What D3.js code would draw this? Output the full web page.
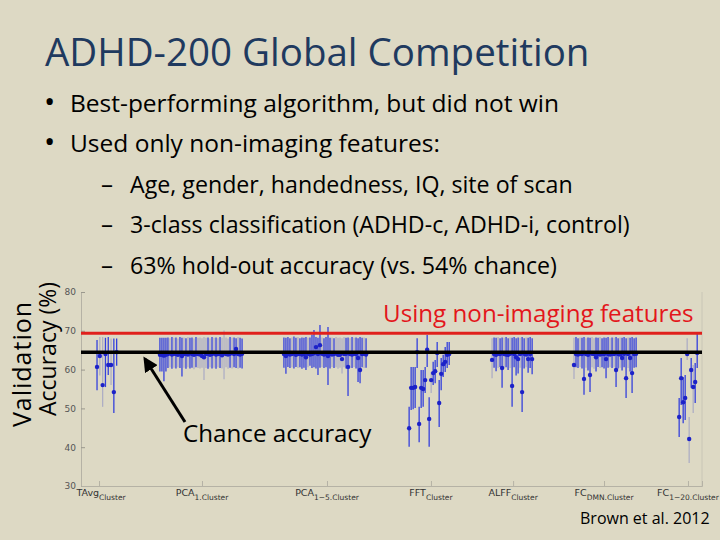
<!DOCTYPE html>
<html>
<head>
<meta charset="utf-8">
<script src="https://cdn.jsdelivr.net/npm/d3@7"></script>
<style>
  html, body { margin: 0; padding: 0; background: #ddd9c4; }
  svg { display: block; }
</style>
</head>
<body>
<svg id="chart" width="720" height="540"></svg>
<script>
// tick labels and group names (main text + subscript)
const yTicks = [30, 40, 50, 60, 70, 80];
const groupNames = [
  ["TAvg", "Cluster"], ["PCA", "1.Cluster"], ["PCA", "1\u22125.Cluster"],
  ["FFT", "Cluster"], ["ALFF", "Cluster"], ["FC", "DMN.Cluster"], ["FC", "1\u221220.Cluster"]
];
const groupTicks = [9.0, 60.4, 122.8, 174.7, 215.7, 261.1, 303.0];
const groupStart = [8.0, 39.4, 101.3, 163.8, 205.2, 246.1, 298.6];
const groupStep = [1.4, 1, 1, 1, 1, 1, 1];

const bestLevel = 69.4;   // red line
const chanceLevel = 64.5; // black line

// group 1: TAvg
const g1Mean = [60.7, 63.5, 56.0, 64.0, 61.2, 61.2, 54.2, 64.5];
const g1Lo   = [54.7, 58.5, 50.4, 55.5, 58.6, 56.0, 48.8, 61.0];
const g1Hi   = [67.6, 68.4, 68.4, 68.2, 68.4, 68.0, 68.0, 68.0];
const g1Col  = "bggbbgbb";

// group 2: PCA 1
const g2Mean = [63.8, 63.8, 63.6, 63.8, 64.0, 64.2, 63.9, 64.1, 64.0, 63.8,
                64.2, 63.5, 64.0, 64.1, 63.9, 64.3, 64.0, 63.8, 64.1, 64.0,
                63.9, 63.5, 63.2, 64.0, 64.1, 63.8, 64.0, 64.2, 63.9, 64.0,
                64.1, 63.7, 64.2, 64.0, 63.9, 64.1, 64.3, 64.0, 65.3, 64.0,
                63.9, 64.1];
const g2Lo   = [59.5, 59.5, 57.0, 59.5, 60.4, 60.6, 60.2, 60.5, 60.3, 60.6,
                60.4, 58.2, 60.5, 60.2, 60.6, 60.3, 60.5, 60.1, 60.6, 60.4,
                60.3, 60.5, 57.3, 60.4, 60.2, 60.6, 60.3, 60.5, 60.2, 60.6,
                60.4, 60.3, 57.5, 60.6, 60.2, 60.5, 60.3, 60.6, 60.4, 60.2,
                60.5, 60.3];
const g2Hi   = [68.2, 68.2, 68.2, 68.2, 68.3, 68.1, 68.4, 68.2, 68.3, 68.0,
                68.4, 68.2, 68.3, 68.1, 68.4, 68.2, 68.3, 68.0, 68.4, 68.2,
                68.3, 68.1, 68.4, 68.2, 68.3, 68.0, 68.4, 68.2, 68.3, 68.1,
                68.4, 68.2, 70.1, 68.3, 68.0, 68.4, 68.2, 68.3, 68.1, 68.4,
                68.2, 68.0];
const g2Col  = "bbbbbgbgbgbbgbgbbgbgggggbgbgbgbggggbgbbgbb";

// group 3: PCA 1-5
const g3Mean = [64.0, 63.5, 64.1, 63.9, 64.0, 64.2, 63.8, 64.0, 64.1, 63.9,
                64.0, 63.2, 64.1, 63.9, 64.0, 64.2, 65.8, 64.0, 66.3, 64.1,
                63.9, 64.0, 63.5, 64.1, 63.9, 64.0, 64.2, 63.8, 63.8, 62.7,
                64.0, 64.1, 60.7, 64.0, 63.9, 64.1, 64.0, 63.0, 59.9, 64.0,
                64.1, 63.9];
const g3Lo   = [60.5, 58.9, 60.7, 60.4, 60.6, 60.3, 60.7, 60.4, 60.6, 60.2,
                60.5, 59.9, 60.6, 61.0, 60.4, 60.6, 60.3, 58.6, 60.5, 60.7,
                60.4, 60.6, 56.0, 60.3, 60.7, 60.4, 60.6, 60.2, 60.5, 59.0,
                60.6, 60.3, 53.2, 60.5, 60.4, 60.7, 60.3, 56.8, 56.5, 60.6,
                60.4, 60.5];
const g3Hi   = [68.3, 68.2, 68.4, 68.1, 68.3, 68.5, 68.2, 68.4, 68.1, 68.3,
                68.2, 68.4, 68.2, 68.3, 69.0, 70.2, 68.4, 68.2, 71.5, 68.3,
                68.1, 68.4, 71.0, 68.2, 68.3, 68.1, 68.4, 68.2, 68.3, 68.1,
                68.4, 68.2, 68.3, 68.1, 68.4, 68.2, 68.3, 68.1, 68.4, 68.2,
                68.3, 68.1];
const g3Col  = "bbbbgbbgbbbbgbbbbbbgbbbbgbgggggbbgbgbbbbgbg";

// group 4: FFT
const g4Mean = [44.9, 55.3, 55.3, 55.5, 64.5, 46.0, 55.3, 55.0, 57.3, 65.1,
                47.3, 57.3, 59.1, 59.6, 64.3, 51.4, 58.9, 61.4, 62.0, 63.8, 64.0];
const g4Lo   = [40.1, 49.6, 49.8, 50.1, 60.4, 41.3, 50.1, 50.4, 54.0, 60.7,
                40.1, 54.0, 56.0, 56.5, 60.7, 45.2, 54.7, 58.1, 59.4, 60.4, 61.2];
const g4Hi   = [50.4, 60.7, 60.7, 60.7, 68.1, 50.4, 59.9, 59.9, 60.7, 68.9,
                52.9, 59.4, 62.0, 62.5, 67.1, 57.3, 63.0, 63.8, 65.8, 67.1, 67.1];
const g4Col  = "bbbbbbbbbbbgbbbbbbbbb";

// group 5: ALFF
const g5Mean = [62.5, 64.0, 63.8, 64.1, 64.0, 60.4, 64.0, 63.9, 63.8, 64.1,
                55.8, 64.0, 63.2, 62.7, 64.0, 54.2, 64.1, 63.9, 62.7, 64.0, 62.7];
const g5Lo   = [57.8, 60.5, 59.6, 60.4, 60.7, 55.3, 60.3, 60.6, 59.9, 60.4,
                50.4, 60.6, 58.5, 59.0, 60.5, 49.1, 60.3, 60.6, 59.2, 60.4, 58.8];
const g5Hi   = [68.1, 68.3, 68.2, 68.4, 68.1, 68.3, 68.2, 68.4, 68.1, 68.3,
                68.2, 68.4, 68.1, 68.3, 68.2, 68.4, 68.1, 68.3, 68.2, 68.4, 68.1];
const g5Col  = "gbbgbbgbbgbbbbgbbgbbb";

// group 6: FC DMN
const g6Mean = [61.2, 64.0, 63.9, 64.1, 64.0, 57.6, 64.0, 63.8, 58.6, 64.1,
                64.0, 63.2, 64.0, 63.9, 64.1, 64.0, 62.7, 64.0, 63.9, 64.1,
                64.0, 59.9, 64.0, 63.9, 63.0, 64.1, 57.8, 64.0, 63.0, 59.1,
                64.0, 64.1];
const g6Lo   = [57.6, 60.6, 60.4, 60.7, 60.3, 53.5, 60.5, 59.8, 54.2, 60.6,
                60.2, 59.5, 60.7, 60.4, 60.6, 60.3, 57.8, 60.5, 60.7, 60.4,
                60.6, 55.5, 60.3, 60.5, 59.8, 60.6, 52.7, 60.4, 59.5, 54.0,
                60.5, 60.6];
const g6Hi   = [68.2, 68.4, 68.1, 68.3, 68.2, 68.4, 68.1, 68.3, 68.2, 68.4,
                68.1, 68.3, 68.2, 68.4, 68.1, 68.3, 68.2, 68.4, 68.1, 68.3,
                68.2, 68.4, 68.1, 68.3, 68.2, 68.4, 68.1, 68.3, 68.2, 68.4,
                68.1, 68.3];
const g6Col  = "gbbgbbgbbggbbgbbbbgbgbbgbbbgbbbb";

// group 7: FC 1-20
const g7Mean = [47.8, 57.8, 51.6, 52.7, 64.0, 42.1, 59.9, 55.5, 56.8, 64.3];
const g7Lo   = [42.6, 50.9, 46.2, 47.0, 62.5, 35.9, 55.3, 48.8, 51.4, 60.4];
const g7Hi   = [52.7, 63.0, 58.1, 58.6, 68.1, 47.8, 63.0, 61.2, 61.7, 69.4];
const g7Col  = "bbbbggbgbb";

const groups = [
  [g1Mean, g1Lo, g1Hi, g1Col], [g2Mean, g2Lo, g2Hi, g2Col], [g3Mean, g3Lo, g3Hi, g3Col],
  [g4Mean, g4Lo, g4Hi, g4Col], [g5Mean, g5Lo, g5Hi, g5Col], [g6Mean, g6Lo, g6Hi, g6Col],
  [g7Mean, g7Lo, g7Hi, g7Col]
];

// flatten into one list of bars
const bars = [];
groups.forEach((g, gi) => {
  g[0].forEach((m, i) => {
    bars.push({
      x: groupStart[gi] + i * groupStep[gi],
      mean: m, lo: g[1][i], hi: g[2][i],
      gray: g[3].charAt(i) === "g"
    });
  });
});

const svg = d3.select("#chart");
const font = "'Open Sans', sans-serif";

// slide text
svg.append("text")
  .attr("x", 45).attr("y", 66)
  .attr("font-family", font).attr("font-size", 38.5)
  .attr("fill", "#1f3a5f")
  .text("ADHD-200 Global Competition");

const bulletLines = [
  { dot: "\u2022", text: "Best-performing algorithm, but did not win", y: 112, dx: 44, tx: 70, size: 24.5 },
  { dot: "\u2022", text: "Used only non-imaging features:", y: 152, dx: 44, tx: 70, size: 24.5 },
  { dot: "\u2013", text: "Age, gender, handedness, IQ, site of scan", y: 193, dx: 101, tx: 130, size: 23.2 },
  { dot: "\u2013", text: "3-class classification (ADHD-c, ADHD-i, control)", y: 233, dx: 101, tx: 130, size: 23.2 },
  { dot: "\u2013", text: "63% hold-out accuracy (vs. 54% chance)", y: 274, dx: 101, tx: 130, size: 23.2 }
];
bulletLines.forEach((b) => {
  svg.append("text").attr("x", b.dx).attr("y", b.y)
    .attr("font-family", font).attr("font-size", b.dot === "\u2022" ? 30 : 24).attr("fill", "#000")
    .text(b.dot);
  svg.append("text").attr("x", b.tx).attr("y", b.y)
    .attr("font-family", font).attr("font-size", b.size).attr("fill", "#000")
    .text(b.text);
});

// scales
const x = d3.scaleLinear().domain([0, 310]).range([81, 702]);
const y = d3.scaleLinear().domain([30, 80]).range([486, 292]);

// plot frame
const plot = svg.append("g");
plot.append("line")
  .attr("x1", x(310)).attr("x2", x(310)).attr("y1", y(80)).attr("y2", y(30))
  .attr("stroke", "#c9c6b6").attr("stroke-width", 1);

const yAxis = plot.append("g")
  .attr("transform", `translate(${x(0)},0)`)
  .call(d3.axisLeft(y).tickValues(yTicks).tickSize(-4).tickPadding(5).tickFormat(d3.format("d")));
yAxis.select(".domain").attr("stroke", "#b5b2a5");
yAxis.selectAll(".tick line").attr("stroke", "#9a988d");
yAxis.selectAll("text").attr("font-family", "'DejaVu Sans', sans-serif")
  .attr("font-size", 9).attr("fill", "#555");

const xAxis = plot.append("g")
  .attr("transform", `translate(0,${y(30)})`)
  .call(d3.axisBottom(x).tickValues(groupTicks).tickSize(-5).tickFormat(""));
xAxis.select(".domain").attr("stroke", "#b5b2a5");
xAxis.selectAll(".tick line").attr("stroke", "#b5b2a5");

// tick labels with subscripts
const xl = plot.append("g").selectAll("text")
  .data(groupNames)
  .join("text")
  .attr("x", (d, i) => x(groupTicks[i]) + (i === 0 ? 2 : 0))
  .attr("y", y(30) + 10)
  .attr("text-anchor", "middle")
  .attr("font-family", "'DejaVu Sans', sans-serif")
  .attr("fill", "#333");
xl.append("tspan").attr("font-size", 9.5).text((d) => d[0]);
xl.append("tspan").attr("font-size", 7.5).attr("dy", 4).text((d) => d[1]);

// error bars
plot.append("g").selectAll("line")
  .data(bars)
  .join("line")
  .attr("x1", (d) => x(d.x)).attr("x2", (d) => x(d.x))
  .attr("y1", (d) => y(d.lo)).attr("y2", (d) => y(d.hi))
  .attr("stroke", (d) => (d.gray ? "#aeaec4" : "#3440dc"))
  .attr("stroke-width", 1.3);

// means
plot.append("g").selectAll("circle")
  .data(bars)
  .join("circle")
  .attr("cx", (d) => x(d.x)).attr("cy", (d) => y(d.mean))
  .attr("r", 2.2)
  .attr("fill", "#1c22c8");

// reference lines
plot.append("line")
  .attr("x1", x(0)).attr("x2", x(310))
  .attr("y1", y(bestLevel)).attr("y2", y(bestLevel))
  .attr("stroke", "#e0201c").attr("stroke-width", 3);
plot.append("line")
  .attr("x1", x(0)).attr("x2", x(310))
  .attr("y1", y(chanceLevel)).attr("y2", y(chanceLevel))
  .attr("stroke", "#000").attr("stroke-width", 3.5);

// annotations
svg.append("text").attr("x", 383).attr("y", 322)
  .attr("font-family", font).attr("font-size", 24.2).attr("fill", "#e3161b")
  .text("Using non-imaging features");

svg.append("defs").append("marker")
  .attr("id", "arrow")
  .attr("viewBox", "0 -5 10 10")
  .attr("refX", 8).attr("refY", 0)
  .attr("markerWidth", 5).attr("markerHeight", 5)
  .attr("orient", "auto")
  .append("path").attr("d", "M0,-5L10,0L0,5Z").attr("fill", "#000");

svg.append("line")
  .attr("x1", 185).attr("y1", 422).attr("x2", 145).attr("y2", 359)
  .attr("stroke", "#000").attr("stroke-width", 3)
  .attr("marker-end", "url(#arrow)");

svg.append("text").attr("x", 183).attr("y", 442)
  .attr("font-family", font).attr("font-size", 24.2).attr("fill", "#000")
  .text("Chance accuracy");

// y label
svg.append("text")
  .attr("transform", "translate(31,364) rotate(-90)")
  .attr("text-anchor", "middle")
  .attr("font-family", font).attr("font-size", 25).attr("letter-spacing", 1)
  .attr("fill", "#000")
  .text("Validation");
svg.append("text")
  .attr("transform", "translate(56,349) rotate(-90)")
  .attr("text-anchor", "middle")
  .attr("font-family", font).attr("font-size", 23).attr("fill", "#000")
  .text("Accuracy (%)");

svg.append("text").attr("x", 580).attr("y", 524)
  .attr("font-family", font).attr("font-size", 16).attr("fill", "#000")
  .text("Brown et al. 2012");
</script>
</body>
</html>
